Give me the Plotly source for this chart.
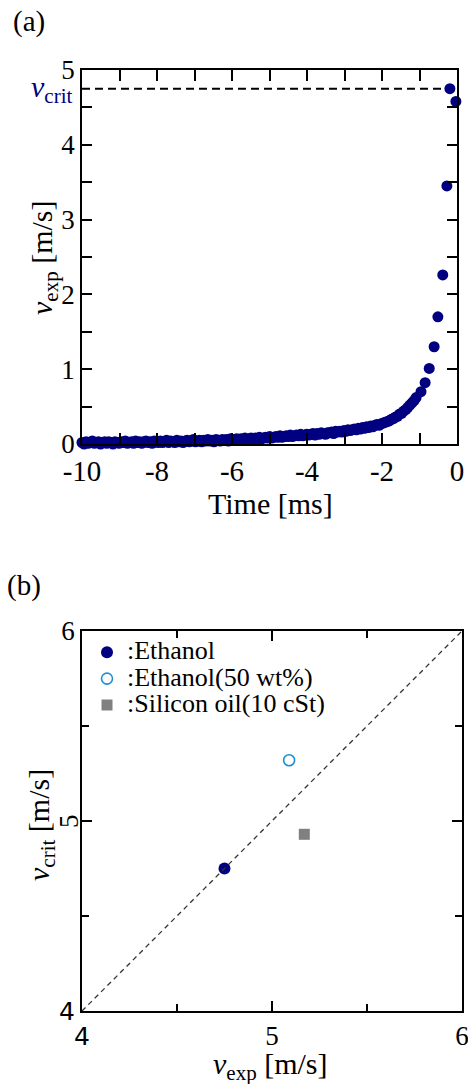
import plotly.graph_objects as go

# ---------------- data: panel (a) ----------------
time_ms = [
    -10.000, -9.945, -9.890, -9.835, -9.780, -9.725, -9.670, -9.615, -9.560, -9.505,
    -9.450, -9.395, -9.340, -9.285, -9.230, -9.175, -9.120, -9.065, -9.010, -8.955,
    -8.900, -8.845, -8.790, -8.735, -8.680, -8.625, -8.570, -8.515, -8.460, -8.405,
    -8.350, -8.295, -8.240, -8.185, -8.130, -8.075, -8.020, -7.965, -7.910, -7.855,
    -7.800, -7.745, -7.690, -7.635, -7.580, -7.525, -7.470, -7.415, -7.360, -7.305,
    -7.250, -7.195, -7.140, -7.085, -7.030, -6.975, -6.920, -6.865, -6.810, -6.755,
    -6.700, -6.645, -6.590, -6.535, -6.480, -6.425, -6.370, -6.315, -6.260, -6.205,
    -6.150, -6.095, -6.040, -5.985, -5.930, -5.875, -5.820, -5.765, -5.710, -5.655,
    -5.600, -5.545, -5.490, -5.435, -5.380, -5.325, -5.270, -5.215, -5.160, -5.105,
    -5.050, -4.995, -4.940, -4.885, -4.830, -4.775, -4.720, -4.665, -4.610, -4.555,
    -4.500, -4.445, -4.390, -4.335, -4.280, -4.225, -4.170, -4.115, -4.060, -4.005,
    -3.950, -3.895, -3.840, -3.785, -3.730, -3.675, -3.620, -3.565, -3.510, -3.455,
    -3.400, -3.345, -3.290, -3.235, -3.180, -3.125, -3.070, -3.015, -2.960, -2.905,
    -2.850, -2.795, -2.740, -2.685, -2.630, -2.575, -2.520, -2.465, -2.410, -2.355,
    -2.300, -2.245, -2.190, -2.135, -2.080, -2.025, -1.970, -1.915, -1.860, -1.805,
    -1.750, -1.695, -1.640, -1.585, -1.530, -1.475, -1.420, -1.365, -1.310, -1.255,
    -1.200, -1.145, -1.090,
    -0.96, -0.85, -0.74, -0.61, -0.51, -0.38, -0.27, -0.19, -0.03,
]
v_exp = [
    0.02, 0.00, 0.03, 0.01, 0.02, 0.04, 0.01, 0.02, 0.03, 0.00,
    0.02, 0.03, 0.01, 0.03, 0.02, 0.00, 0.03, 0.02, 0.01, 0.03,
    0.02, 0.04, 0.01, 0.02, 0.03, 0.01, 0.04, 0.02, 0.03, 0.01,
    0.03, 0.04, 0.02, 0.03, 0.01, 0.04, 0.03, 0.02, 0.04, 0.02,
    0.03, 0.05, 0.02, 0.04, 0.03, 0.02, 0.05, 0.03, 0.04, 0.02,
    0.04, 0.05, 0.03, 0.04, 0.06, 0.03, 0.04, 0.05, 0.03, 0.05,
    0.04, 0.06, 0.04, 0.05, 0.03, 0.06, 0.05, 0.04, 0.06, 0.05,
    0.06, 0.04, 0.07, 0.05, 0.06, 0.07, 0.05, 0.07, 0.06, 0.08,
    0.06, 0.07, 0.08, 0.06, 0.08, 0.07, 0.09, 0.07, 0.08, 0.09,
    0.08, 0.10, 0.08, 0.09, 0.10, 0.09, 0.11, 0.09, 0.10, 0.11,
    0.10, 0.12, 0.10, 0.11, 0.12, 0.11, 0.13, 0.11, 0.12, 0.13,
    0.12, 0.13, 0.14, 0.12, 0.14, 0.13, 0.15, 0.14, 0.13, 0.15,
    0.15, 0.16, 0.14, 0.17, 0.16, 0.17, 0.16, 0.18, 0.17, 0.19,
    0.18, 0.19, 0.20, 0.19, 0.21, 0.20, 0.22, 0.21, 0.23, 0.22,
    0.24, 0.23, 0.25, 0.26, 0.25, 0.27, 0.28, 0.29, 0.30, 0.31,
    0.33, 0.34, 0.36, 0.37, 0.40, 0.41, 0.44, 0.46, 0.49, 0.52,
    0.55, 0.58, 0.62,
    0.70, 0.82, 1.01, 1.30, 1.70, 2.26, 3.45, 4.75, 4.58,
]
v_crit = 4.75

a_x_range = [-10, 0]
a_y_range = [0, 5]
a_x_tickvals = [-10, -8, -6, -4, -2, 0]
a_x_ticktext = ["-10", "-8", "-6", "-4", "-2", "0"]
a_y_tickvals = [0, 1, 2, 3, 4, 5]
a_y_ticktext = ["0", "1", "2", "3", "4", "5"]

# ---------------- data: panel (b) ----------------
liquids = [":Ethanol", ":Ethanol(50 wt%)", ":Silicon oil(10 cSt)"]
b_vexp = [4.75, 5.09, 5.17]
b_vcrit = [4.75, 5.32, 4.93]
b_colors = ["#000080", "#1f8fd0", "#808080"]
b_symbols = ["circle", "circle-open", "square"]
b_sizes = [12, 11, 11]

b_range = [4, 6]
b_tickvals = [4, 5, 6]
SANS4 = '<span style="font-family:DejaVu Sans;font-size:25px">4</span>'
b_x_ticktext = [SANS4, "5", "6"]
b_y_ticktext = [SANS4, " ", "6"]

FONT = "Liberation Serif"
W, H = 468, 1084
NAVY = "#000080"


def px(xp):
    return xp / W


def py(yp):
    return 1 - yp / H


fig = go.Figure()

# panel (a) data
fig.add_trace(go.Scatter(
    x=time_ms, y=v_exp, mode="markers", xaxis="x", yaxis="y",
    marker=dict(color=NAVY, size=11, line=dict(width=0)),
    cliponaxis=False, showlegend=False,
))

# panel (b) data
for name, xv, yv, c, s, sz in zip(liquids, b_vexp, b_vcrit, b_colors, b_symbols, b_sizes):
    fig.add_trace(go.Scatter(
        x=[xv], y=[yv], mode="markers", xaxis="x2", yaxis="y2",
        name='<span style="font-size:26px">' + name + '</span>',
        marker=dict(color=c, symbol=s, size=sz,
                    line=dict(width=1.6 if s == "circle-open" else 0, color=c)),
        cliponaxis=False, showlegend=True,
    ))

# identity line in panel (b)
fig.add_trace(go.Scatter(
    x=b_range, y=b_range, mode="lines", xaxis="x2", yaxis="y2",
    line=dict(color="#333333", width=1.3, dash="5px,4px"),
    showlegend=False, hoverinfo="skip",
))

# v_crit dashed line in panel (a)
fig.add_shape(type="line", xref="x domain", yref="y", x0=0, x1=1, y0=v_crit, y1=v_crit,
              line=dict(color="black", width=2, dash="8px,5px"), layer="below")

axis_common = dict(
    showline=True, linecolor="black", linewidth=1.5, mirror="ticks",
    ticks="inside", tickcolor="black", tickwidth=1.5, showgrid=False, zeroline=False,
    automargin=False, ticklabeloverflow="allow",
)

fig.update_layout(
    width=W, height=H,
    margin=dict(l=0, r=0, t=0, b=0, autoexpand=False),
    paper_bgcolor="white", plot_bgcolor="white",
    font=dict(family=FONT, color="black", size=28),
    xaxis=dict(
        domain=[px(82), px(457)], anchor="y", range=a_x_range,
        tickmode="array", tickvals=a_x_tickvals, ticktext=a_x_ticktext,
        ticklen=11, tickfont=dict(size=29),
        minor=dict(dtick=1, tick0=0, ticks="inside", ticklen=11, tickcolor="black", tickwidth=1.5),
        **axis_common,
    ),
    yaxis=dict(
        domain=[py(444), py(70)], anchor="x", range=a_y_range,
        tickmode="array", tickvals=a_y_tickvals, ticktext=a_y_ticktext,
        ticklen=10, tickfont=dict(size=27),
        minor=dict(dtick=0.5, tick0=0, ticks="inside", ticklen=10, tickcolor="black", tickwidth=1.5),
        **axis_common,
    ),
    xaxis2=dict(
        domain=[px(82), px(462)], anchor="y2", range=b_range,
        tickmode="array", tickvals=b_tickvals, ticktext=b_x_ticktext,
        ticklen=10, tickfont=dict(size=27),
        minor=dict(dtick=0.5, tick0=4, ticks="inside", ticklen=7, tickcolor="black", tickwidth=1.5),
        **axis_common,
    ),
    yaxis2=dict(
        domain=[py(1011), py(631)], anchor="x2", range=b_range,
        tickmode="array", tickvals=b_tickvals, ticktext=b_y_ticktext,
        ticklen=10, tickfont=dict(size=27),
        minor=dict(dtick=0.5, tick0=4, ticks="inside", ticklen=7, tickcolor="black", tickwidth=1.5),
        **axis_common,
    ),
    legend=dict(
        x=px(87), y=py(634), xanchor="left", yanchor="top",
        bgcolor="rgba(0,0,0,0)", borderwidth=0,
        font=dict(family=FONT, size=18, color="black"),
        itemsizing="trace",
    ),
    annotations=[
        dict(text="(a)", xref="paper", yref="paper", x=px(11), y=py(22),
             xanchor="left", yanchor="middle", showarrow=False, font=dict(size=29)),
        dict(text="(b)", xref="paper", yref="paper", x=px(5), y=py(585),
             xanchor="left", yanchor="middle", showarrow=False, font=dict(size=29)),
        dict(text="<i>v</i><sub>crit</sub>", xref="paper", yref="y", x=px(74), y=v_crit,
             xanchor="right", yanchor="middle", showarrow=False,
             font=dict(size=30, color=NAVY)),
        dict(text=str(b_tickvals[1]), xref="paper", yref="y2", x=px(69), y=b_tickvals[1],
             xanchor="center", yanchor="middle", showarrow=False, textangle=-90,
             font=dict(size=27)),
        # axis titles
        dict(text="Time [ms]", xref="paper", yref="paper", x=px(270), y=py(503),
             xanchor="center", yanchor="middle", showarrow=False, font=dict(size=30)),
        dict(text="<i>v</i><sub>exp</sub> [m/s]", xref="paper", yref="paper", x=px(44), y=py(258),
             xanchor="center", yanchor="middle", showarrow=False, textangle=-90,
             font=dict(size=30)),
        dict(text="<i>v</i><sub>exp</sub> [m/s]", xref="paper", yref="paper", x=px(270), y=py(1066),
             xanchor="center", yanchor="middle", showarrow=False, font=dict(size=30)),
        dict(text="<i>v</i><sub>crit</sub> [m/s]", xref="paper", yref="paper", x=px(41), y=py(825),
             xanchor="center", yanchor="middle", showarrow=False, textangle=-90,
             font=dict(size=30)),
    ],
)

fig.write_html(
    "out.html",
    config={"displayModeBar": False},
    post_script=(
        "document.body.style.margin='0';"
        "document.body.style.padding='0';"
        "document.documentElement.style.overflow='hidden';"
        "document.body.style.overflow='hidden';"
    ),
)
